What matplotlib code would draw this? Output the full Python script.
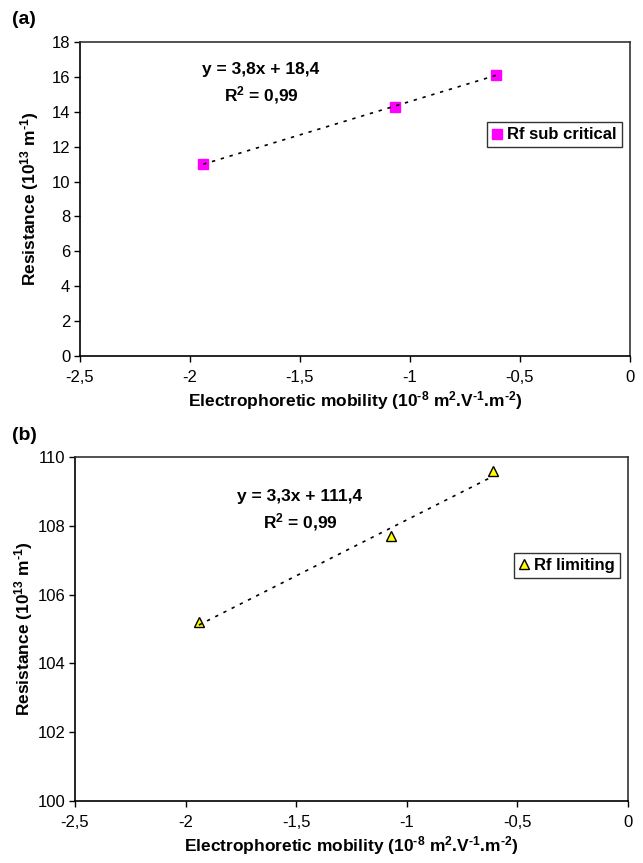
import matplotlib
matplotlib.use("Agg")
import matplotlib.pyplot as plt
import numpy as np

plt.rcParams['font.family'] = ['Liberation Sans', 'DejaVu Sans']
plt.rcParams['mathtext.fontset'] = 'custom'
plt.rcParams['mathtext.rm'] = 'Liberation Sans:bold'
plt.rcParams['mathtext.bf'] = 'Liberation Sans:bold'
plt.rcParams['mathtext.it'] = 'Liberation Sans:bold'

# mobilite electrophoretique (1e-8 m2.V-1.m-2)
mobility = [-1.94, -1.07, -0.61]
# resistances (1e13 m-1)
rf_sub = [11.0, 14.3, 16.1]
rf_lim = [105.2, 107.7, 109.6]

x_ticks = [-2.5, -2.0, -1.5, -1.0, -0.5, 0.0]
x_ticklabels = ['-2,5', '-2', '-1,5', '-1', '-0,5', '0']

xlabel = r'Electrophoretic mobility (10$^{\text{-8}}$ m$^{\text{2}}$.V$^{\text{-1}}$.m$^{\text{-2}}$)'
ylabel = r'Resistance (10$^{\text{13}}$ m$^{\text{-1}}$)'

W, H = 643, 863
fig = plt.figure(figsize=(W / 100, H / 100), dpi=100)

def box(l, t, r, b):
    return [l / W, 1 - b / H, (r - l) / W, (b - t) / H]

def style(ax, ylim, yticks, ypad):
    ax.set_xlim(-2.5, 0)
    ax.set_ylim(*ylim)
    ax.set_xticks(x_ticks)
    ax.set_xticklabels(x_ticklabels)
    ax.set_yticks(yticks)
    ax.set_yticklabels([str(v) for v in yticks])
    ax.tick_params(direction='out', length=4, width=1, labelsize=12, pad=3)
    ax.tick_params(axis='x', pad=6)
    for s in ['left', 'bottom']:
        ax.spines[s].set_color('black')
        ax.spines[s].set_linewidth(1.2)
    for s in ['top', 'right']:
        ax.spines[s].set_color('#333333')
        ax.spines[s].set_linewidth(1.2)
    ax.set_xlabel(xlabel, fontsize=12.5, fontweight='bold', labelpad=3)
    ax.set_ylabel(ylabel, fontsize=12.5, fontweight='bold', labelpad=ypad)

def trend(ax, x, y):
    p = np.polyfit(x, y, 1)
    xs = np.array([min(x), max(x)])
    ax.plot(xs, np.polyval(p, xs), color='black', lw=1.2, ls=(0, (2, 3.5)), zorder=4)

def legend(ax, y):
    leg = ax.legend(loc='center right', bbox_to_anchor=(0.985, y), frameon=True,
                    fancybox=False, handlelength=0.6, handletextpad=0.3,
                    borderpad=0.3, borderaxespad=0,
                    prop={'weight': 'bold', 'size': 12})
    leg.get_frame().set_edgecolor('black')
    leg.get_frame().set_linewidth(1)

# (a) sous-critique
ax1 = fig.add_axes(box(80, 42, 630, 356))
ax1.plot(mobility, rf_sub, 's', color='#ff00ff', ms=7, mec='#ff00ff',
         label='Rf sub critical', zorder=3)
trend(ax1, mobility, rf_sub)
style(ax1, (0, 18), list(range(0, 19, 2)), 8)
ax1.text(-1.677, 16.4, 'y = 3,8x + 18,4', fontsize=12.5, fontweight='bold',
         ha='center', va='center')
ax1.text(-1.677, 14.96, r'R$^{\text{2}}$ = 0,99', fontsize=12.5, fontweight='bold',
         ha='center', va='center')
legend(ax1, 0.704)
fig.text(12 / W, 1 - 20 / H, '(a)', fontsize=14, fontweight='bold', va='center')

# (b) limite
ax2 = fig.add_axes(box(75, 457, 628, 801))
ax2.plot(mobility, rf_lim, '^', color='#ffff00', ms=7, mec='black', mew=1,
         label='Rf limiting', zorder=3)
trend(ax2, mobility, rf_lim)
style(ax2, (100, 110), list(range(100, 111, 2)), 2)
ax2.text(-1.483, 108.84, 'y = 3,3x + 111,4', fontsize=12.5, fontweight='bold',
         ha='center', va='center')
ax2.text(-1.483, 108.11, r'R$^{\text{2}}$ = 0,99', fontsize=12.5, fontweight='bold',
         ha='center', va='center')
legend(ax2, 0.686)
fig.text(12 / W, 1 - 435 / H, '(b)', fontsize=14, fontweight='bold', va='center')

fig.savefig('out.png', dpi=100)
